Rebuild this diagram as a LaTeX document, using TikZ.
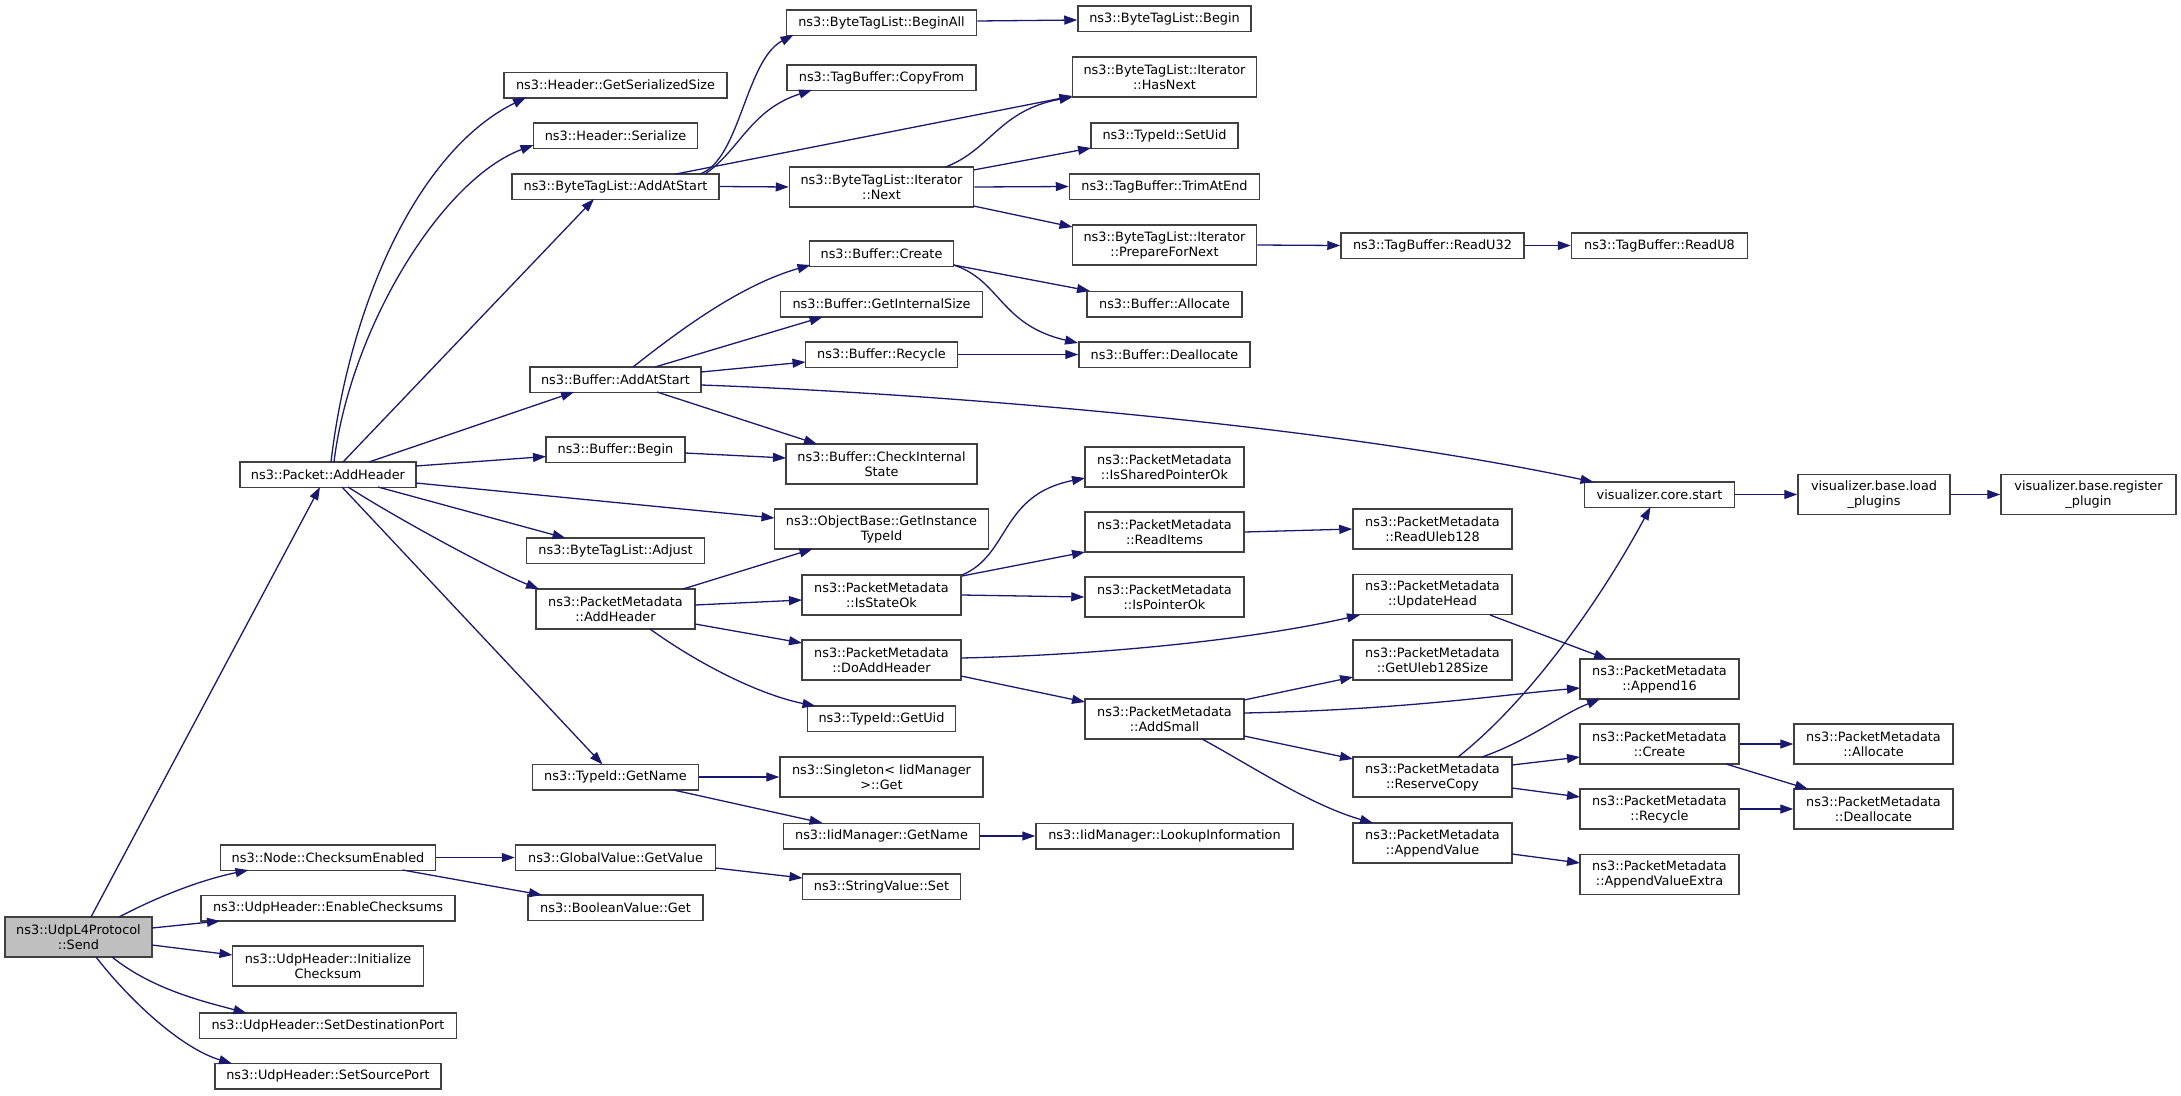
\documentclass[tikz,border=0pt]{standalone}
\usepackage{fontspec}
\setmainfont{DejaVu Sans}
\usetikzlibrary{arrows.meta,calc}
\definecolor{edgec}{HTML}{191970}
\definecolor{boxc}{HTML}{404040}
\definecolor{rootc}{HTML}{BFBFBF}
\begin{document}
\begin{tikzpicture}[x=1pt,y=-1pt,
  box/.style={draw=boxc, line width=1.5pt, fill=white, inner sep=0pt, align=center,
    font=\fontsize{12.85}{15}\selectfont, minimum height=25.5pt},
  two/.style={minimum height=40pt},
  e/.style={draw=edgec, line width=1.3pt, -{Triangle[length=13pt,width=9pt]}}]
\useasboundingbox (0,0) rectangle (2181,1095);
% column 0/1
\node[box,two,fill=rootc,minimum width=147pt] (send) at (78.5,937) {ns3::UdpL4Protocol\\::Send};
\node[box,minimum width=176pt] (pah) at (328,474.5) {ns3::Packet::AddHeader};
\node[box,minimum width=215pt] (nce) at (328,857.5) {ns3::Node::ChecksumEnabled};
\node[box,minimum width=254pt] (uec) at (328,908) {ns3::UdpHeader::EnableChecksums};
\node[box,two,minimum width=191pt] (uic) at (328,966) {ns3::UdpHeader::Initialize\\Checksum};
\node[box,minimum width=257pt] (usd) at (328,1025.5) {ns3::UdpHeader::SetDestinationPort};
\node[box,minimum width=226pt] (ussp) at (328,1076) {ns3::UdpHeader::SetSourcePort};
% column 2
\node[box,minimum width=223pt] (hgs) at (615.5,85) {ns3::Header::GetSerializedSize};
\node[box,minimum width=164pt] (hs) at (615.5,135.5) {ns3::Header::Serialize};
\node[box,minimum width=207pt] (btas) at (615.5,186.5) {ns3::ByteTagList::AddAtStart};
\node[box,minimum width=171pt] (bas) at (615.5,379.5) {ns3::Buffer::AddAtStart};
\node[box,minimum width=139pt] (bb) at (615.5,449.5) {ns3::Buffer::Begin};
\node[box,minimum width=178pt] (bta) at (615.5,550.5) {ns3::ByteTagList::Adjust};
\node[box,two,minimum width=159pt] (pmah) at (615.5,609) {ns3::PacketMetadata\\::AddHeader};
\node[box,minimum width=166pt] (tgn) at (615.5,777) {ns3::TypeId::GetName};
\node[box,minimum width=200pt] (gvv) at (615.5,857.5) {ns3::GlobalValue::GetValue};
\node[box,minimum width=175pt] (bvg) at (615.5,907.5) {ns3::BooleanValue::Get};
% column 3
\node[box,minimum width=190pt] (btba) at (881.5,22.5) {ns3::ByteTagList::BeginAll};
\node[box,minimum width=189pt] (tbcf) at (881.5,77.5) {ns3::TagBuffer::CopyFrom};
\node[box,two,minimum width=184pt] (itn) at (881.5,187) {ns3::ByteTagList::Iterator\\::Next};
\node[box,minimum width=144pt] (bc) at (881.5,253.5) {ns3::Buffer::Create};
\node[box,minimum width=202pt] (bgis) at (881.5,304) {ns3::Buffer::GetInternalSize};
\node[box,minimum width=152pt] (brc) at (881.5,354.5) {ns3::Buffer::Recycle};
\node[box,two,minimum width=191pt] (bcis) at (881.5,464) {ns3::Buffer::CheckInternal\\State};
\node[box,two,minimum width=214pt] (ogit) at (881.5,529) {ns3::ObjectBase::GetInstance\\TypeId};
\node[box,two,minimum width=159pt] (piso) at (881.5,595) {ns3::PacketMetadata\\::IsStateOk};
\node[box,two,minimum width=159pt] (pdah) at (881.5,660) {ns3::PacketMetadata\\::DoAddHeader};
\node[box,minimum width=148pt] (tgu) at (881.5,718.5) {ns3::TypeId::GetUid};
\node[box,two,minimum width=203pt] (sg) at (881.5,777) {ns3::Singleton< IidManager\\>::Get};
\node[box,minimum width=196pt] (ign) at (881.5,836) {ns3::IidManager::GetName};
\node[box,minimum width=158pt] (svs) at (881.5,886.5) {ns3::StringValue::Set};
% column 4
\node[box,minimum width=173pt] (btb) at (1164.5,18.5) {ns3::ByteTagList::Begin};
\node[box,two,minimum width=184pt] (ihn) at (1164.5,77) {ns3::ByteTagList::Iterator\\::HasNext};
\node[box,minimum width=147pt] (tsu) at (1164.5,135.5) {ns3::TypeId::SetUid};
\node[box,minimum width=190pt] (tbt) at (1164.5,186.5) {ns3::TagBuffer::TrimAtEnd};
\node[box,two,minimum width=184pt] (ipn) at (1164.5,245) {ns3::ByteTagList::Iterator\\::PrepareForNext};
\node[box,minimum width=155pt] (ba) at (1164.5,304) {ns3::Buffer::Allocate};
\node[box,minimum width=171pt] (bd) at (1164.5,354.5) {ns3::Buffer::Deallocate};
\node[box,two,minimum width=159pt] (pisp) at (1164.5,467) {ns3::PacketMetadata\\::IsSharedPointerOk};
\node[box,two,minimum width=159pt] (pri) at (1164.5,532) {ns3::PacketMetadata\\::ReadItems};
\node[box,two,minimum width=159pt] (pipo) at (1164.5,597) {ns3::PacketMetadata\\::IsPointerOk};
\node[box,two,minimum width=159pt] (pas) at (1164.5,719) {ns3::PacketMetadata\\::AddSmall};
\node[box,minimum width=257pt] (ili) at (1164.5,836) {ns3::IidManager::LookupInformation};
% column 5
\node[box,minimum width=183pt] (tbr32) at (1432.5,245.5) {ns3::TagBuffer::ReadU32};
\node[box,two,minimum width=159pt] (pru) at (1432.5,529) {ns3::PacketMetadata\\::ReadUleb128};
\node[box,two,minimum width=159pt] (puh) at (1432.5,594.5) {ns3::PacketMetadata\\::UpdateHead};
\node[box,two,minimum width=159pt] (pgus) at (1432.5,660) {ns3::PacketMetadata\\::GetUleb128Size};
\node[box,two,minimum width=159pt] (prc) at (1432.5,777) {ns3::PacketMetadata\\::ReserveCopy};
\node[box,two,minimum width=159pt] (pav) at (1432.5,843) {ns3::PacketMetadata\\::AppendValue};
% column 6
\node[box,minimum width=176pt] (tbr8) at (1659.5,245.5) {ns3::TagBuffer::ReadU8};
\node[box,minimum width=150pt] (vcs) at (1659.5,494.5) {visualizer.core.start};
\node[box,two,minimum width=159pt] (pa16) at (1659.5,679) {ns3::PacketMetadata\\::Append16};
\node[box,two,minimum width=159pt] (pcr) at (1659.5,744) {ns3::PacketMetadata\\::Create};
\node[box,two,minimum width=159pt] (prcy) at (1659.5,809) {ns3::PacketMetadata\\::Recycle};
\node[box,two,minimum width=159pt] (pave) at (1659.5,874.5) {ns3::PacketMetadata\\::AppendValueExtra};
% column 7/8
\node[box,two,minimum width=152pt] (vlp) at (1874,494.5) {visualizer.base.load\\\_plugins};
\node[box,two,minimum width=159pt] (pal) at (1873.5,744) {ns3::PacketMetadata\\::Allocate};
\node[box,two,minimum width=159pt] (pdl) at (1873.5,809) {ns3::PacketMetadata\\::Deallocate};
\node[box,two,minimum width=175pt] (vrp) at (2088.5,494.5) {visualizer.base.register\\\_plugin};
% edges from Send
\draw[e] ($(send)+(12.5,-20)$) -- ($(pah)+(-8,12.5)$);
\draw[e] ($(send)+(40.5,-20)$) .. controls +(46,-24) and +(-43,9) .. ($(nce)+(-79.5,12.5)$);
\draw[e] ($(send)+(73.5,-9)$) -- ($(uec)+(-108,13)$);
\draw[e] ($(send)+(73.5,8)$) -- ($(uic)+(-95.5,-11)$);
\draw[e] ($(send)+(33.5,20)$) .. controls +(40,32) and +(-45,-12) .. ($(usd)+(-81.5,-12.5)$);
\draw[e] ($(send)+(17.5,20)$) .. controls +(35,45) and +(-50,-15) .. ($(ussp)+(-96,-12.5)$);
% edges from Packet::AddHeader
\draw[e] ($(pah)+(3,-12.5)$) .. controls +(19,-162) and +(-106,52) .. ($(hgs)+(-89.5,12.5)$);
\draw[e] ($(pah)+(6,-12.5)$) .. controls +(16,-132) and +(-93,35) .. ($(hs)+(-82,9.5)$);
\draw[e] ($(pah)+(15,-12.5)$) -- ($(btas)+(-21.5,12.5)$);
\draw[e] ($(pah)+(41,-12.5)$) -- ($(bas)+(-41.5,12.5)$);
\draw[e] ($(pah)+(88,-8.5)$) -- ($(bb)+(-69.5,7)$);
\draw[e] ($(pah)+(88,8.5)$) -- ($(ogit)+(-107,-11)$);
\draw[e] ($(pah)+(50,12.5)$) -- ($(bta)+(-50,-12.5)$);
\draw[e] ($(pah)+(20,12.5)$) .. controls +(50,32) and +(-45,-18) .. ($(pmah)+(-76.5,-20)$);
\draw[e] ($(pah)+(14,12.5)$) -- ($(tgn)+(-13,-12.5)$);
% ByteTagList::AddAtStart
\draw[e] ($(btas)+(84.5,-12.5)$) .. controls +(40,-14) and +(-48,25) .. ($(btba)+(-88,12.5)$);
\draw[e] ($(btas)+(89.5,-12.5)$) .. controls +(35,-24) and +(-62,20) .. ($(tbcf)+(-69.5,12.5)$);
\draw[e] ($(btas)+(60.5,-12.5)$) -- ($(ihn)+(-92,19)$);
\draw[e] (btas.east) -- (itn.west);
\draw[e] ($(btba.east)+(0,-1.5)$) -- ($(btb.west)+(0,1.5)$);
% Iterator::Next
\draw[e] ($(itn)+(64,-20)$) .. controls +(45,-17) and +(-73,13) .. ($(ihn)+(-92,20)$);
\draw[e] ($(itn)+(92,-17)$) -- ($(tsu)+(-73.5,12.5)$);
\draw[e] (itn.east) -- (tbt.west);
\draw[e] ($(itn)+(92,19)$) -- ($(ipn)+(-92,-18)$);
\draw[e] (ipn.east) -- (tbr32.west);
\draw[e] (tbr32.east) -- (tbr8.west);
% Buffer::AddAtStart
\draw[e] ($(bas)+(17.5,-12.5)$) .. controls +(47,-37) and +(-70,20) .. ($(bc)+(-71,11.5)$);
\draw[e] ($(bas)+(39.5,-12.5)$) -- ($(bgis)+(-59,13)$);
\draw[e] ($(bas)+(85.5,-7.5)$) -- ($(brc)+(-76,7.5)$);
\draw[e] ($(bas)+(85.5,5.5)$) .. controls +(199,7) and +(-293,-62) .. ($(vcs)+(-66,-12.5)$);
\draw[e] ($(bas)+(41.5,12.5)$) -- ($(bcis)+(-64.5,-20)$);
\draw[e] ($(bc)+(72,11.5)$) -- ($(ba)+(-74.5,-13)$);
\draw[e] ($(bc)+(72,11.5)$) .. controls +(47,15) and +(-78,-18) .. ($(bd)+(-86.5,-11.5)$);
\draw[e] (brc.east) -- (bd.west);
\draw[e] ($(bb)+(69.5,3.5)$) -- ($(bcis)+(-95.5,-6)$);
% PacketMetadata::AddHeader
\draw[e] ($(pmah)+(67.5,-20)$) -- ($(ogit)+(-69,20)$);
\draw[e] ($(pmah)+(79.5,-4)$) -- ($(piso)+(-79.5,5)$);
\draw[e] ($(pmah)+(79.5,15)$) -- ($(pdah)+(-79.5,-17)$);
\draw[e] ($(pmah)+(34.5,20)$) .. controls +(50,36) and +(-55,-11) .. ($(tgu)+(-66,-12.5)$);
\draw[e] ($(piso)+(80.5,-20)$) .. controls +(48,-20) and +(-85,17) .. ($(pisp)+(-79.5,11)$);
\draw[e] ($(piso)+(80.5,-19)$) -- ($(pri)+(-79.5,20)$);
\draw[e] (piso.east) -- (pipo.west);
\draw[e] ($(pdah)+(79.5,-2)$) .. controls +(139,-3) and +(-110,25) .. ($(puh)+(-72.5,20.5)$);
\draw[e] ($(pdah)+(79.5,16)$) -- ($(pas)+(-79.5,-17)$);
\draw[e] (pri.east) -- (pru.west);
% AddSmall
\draw[e] ($(pas)+(79.5,-19)$) -- ($(pgus)+(-79.5,17)$);
\draw[e] ($(pas)+(79.5,-6)$) .. controls +(156,-3) and +(-80,7) .. ($(pa16)+(-79.5,9)$);
\draw[e] ($(pas)+(79.5,17)$) -- ($(prc)+(-79.5,-18)$);
\draw[e] ($(pas)+(37.5,20)$) .. controls +(48,26) and +(-63,-18) .. ($(pav)+(-59.5,-20)$);
\draw[e] ($(puh)+(57.5,20.5)$) -- ($(pa16)+(-52.5,-20)$);
% ReserveCopy
\draw[e] ($(prc)+(25.5,-20)$) .. controls +(72,-57) and +(-50,93) .. ($(vcs)+(-9,12.5)$);
\draw[e] ($(prc)+(49.5,-20)$) .. controls +(48,-17) and +(-40,16) .. ($(pa16)+(-59.5,20)$);
\draw[e] ($(prc)+(79.5,-12)$) -- ($(pcr)+(-79.5,13)$);
\draw[e] ($(prc)+(79.5,11)$) -- ($(prcy)+(-79.5,-12)$);
\draw[e] ($(pav)+(79.5,11)$) -- ($(pave)+(-79.5,-11.5)$);
\draw[e] (pcr.east) -- (pal.west);
\draw[e] ($(pcr)+(66.5,20)$) -- ($(pdl)+(-65.5,-20)$);
\draw[e] (prcy.east) -- (pdl.west);
\draw[e] (vcs.east) -- (vlp.west);
\draw[e] (vlp.east) -- (vrp.west);
% TypeId::GetName and Node::ChecksumEnabled
\draw[e] (tgn.east) -- (sg.west);
\draw[e] ($(tgn)+(58,13)$) -- ($(ign)+(-59,-13)$);
\draw[e] (ign.east) -- (ili.west);
\draw[e] (nce.east) -- (gvv.west);
\draw[e] ($(nce)+(74.5,12.5)$) -- ($(bvg)+(-73.5,-12.5)$);
\draw[e] ($(gvv)+(100,10.5)$) -- ($(svs)+(-79,-8.5)$);
\end{tikzpicture}
\end{document}
